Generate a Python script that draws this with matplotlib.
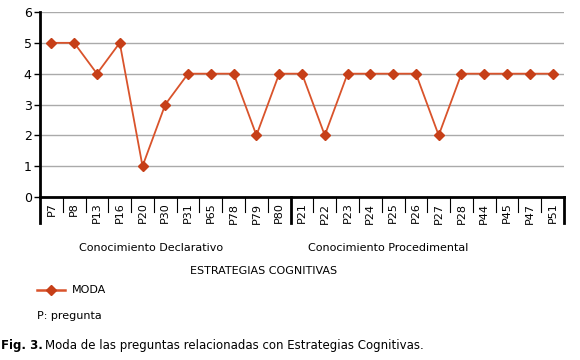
import matplotlib.pyplot as plt
from matplotlib.lines import Line2D
import matplotlib.transforms as mtransforms

declarativo = ['P7', 'P8', 'P13', 'P16', 'P20', 'P30', 'P31', 'P65', 'P78', 'P79', 'P80']
procedimental = ['P21', 'P22', 'P23', 'P24', 'P25', 'P26', 'P27', 'P28', 'P44', 'P45', 'P47', 'P51']
moda_decl = [5, 5, 4, 5, 1, 3, 4, 4, 4, 2, 4]
moda_proc = [4, 2, 4, 4, 4, 4, 2, 4, 4, 4, 4, 4]

preguntas = declarativo + procedimental
moda = moda_decl + moda_proc

line_col = '#D9532B'
mark_col = '#C63F18'
W, H = 580, 360

fig = plt.figure(figsize=(5.8, 3.6), dpi=100)
ax = fig.add_axes([40 / W, 1 - 197 / H, 524 / W, 185 / H])

x = list(range(len(preguntas)))
ax.plot(x, moda, color=line_col, lw=1.3, marker='D', ms=5.5,
        mfc=mark_col, mec=mark_col, zorder=3)

ax.set_xlim(-0.5, len(preguntas) - 0.5)
ax.set_ylim(0, 6)
ax.set_yticks(range(7))
ax.yaxis.grid(True, color='#AAAAAA', lw=1)
ax.set_axisbelow(True)
ax.tick_params(axis='y', length=4, width=1, pad=2, labelsize=9)
ax.set_xticks(x)
ax.set_xticklabels(preguntas, rotation=90, fontsize=8)
ax.tick_params(axis='x', length=0, pad=4)
for s in ['top', 'right']:
    ax.spines[s].set_visible(False)
for s in ['left', 'bottom']:
    ax.spines[s].set_linewidth(2)

# separators between categories
trans = mtransforms.blended_transform_factory(ax.transData, ax.transAxes)
n_decl = len(declarativo)
for i in range(len(preguntas) + 1):
    xs = i - 0.5
    if i in (0, n_decl, len(preguntas)):
        ax.plot([xs, xs], [0, -26 / 185], transform=trans, color='black',
                lw=2, clip_on=False)
    else:
        ax.plot([xs, xs], [0, -15 / 185], transform=trans, color='black',
                lw=0.8, clip_on=False)

fig.text(151 / W, 1 - 248 / H, 'Conocimiento Declarativo', ha='center', va='center', fontsize=8)
fig.text(388 / W, 1 - 248 / H, 'Conocimiento Procedimental', ha='center', va='center', fontsize=8)
fig.text(264 / W, 1 - 271 / H, 'ESTRATEGIAS COGNITIVAS', ha='center', va='center', fontsize=8)

# legend
fig.add_artist(Line2D([37 / W, 65 / W], [1 - 290 / H, 1 - 290 / H], color=line_col, lw=1.8))
fig.add_artist(Line2D([51 / W], [1 - 290 / H], marker='D', ms=5.5, color=mark_col, lw=0))
fig.text(72 / W, 1 - 290 / H, 'MODA', ha='left', va='center', fontsize=8)
fig.text(37 / W, 1 - 316 / H, 'P: pregunta', ha='left', va='center', fontsize=8)

fig.text(1 / W, 1 - 346 / H, 'Fig. 3.', ha='left', va='center', fontsize=8.5, fontweight='bold')
fig.text(45 / W, 1 - 346 / H, 'Moda de las preguntas relacionadas con Estrategias Cognitivas.',
         ha='left', va='center', fontsize=8.5)

fig.savefig('out.png', dpi=100)
